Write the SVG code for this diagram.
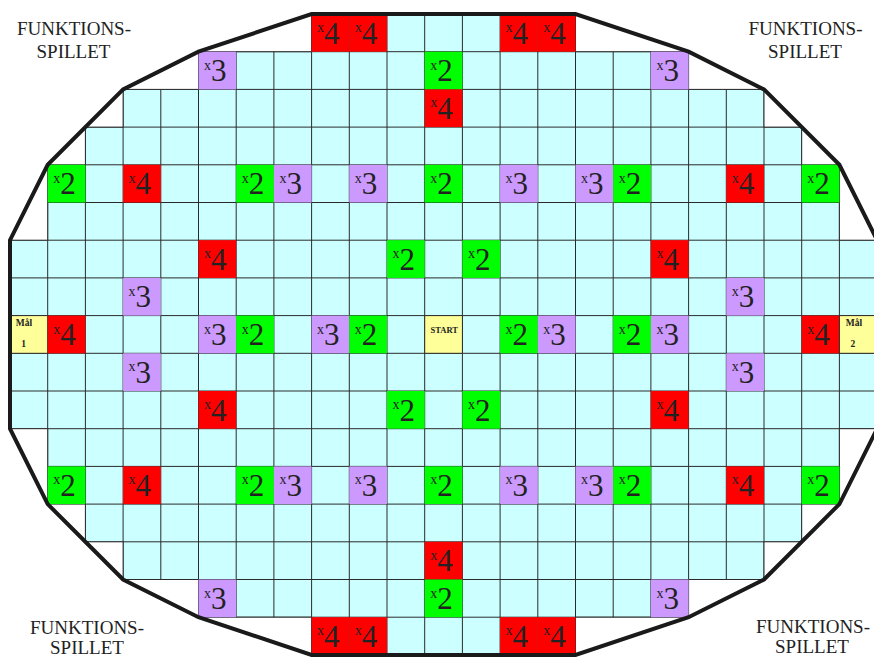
<svg xmlns="http://www.w3.org/2000/svg" width="874" height="660" viewBox="0 0 874 660">
<style>
.board{fill:#ccffff}
.grid{stroke:#2a2a2a;stroke-width:1;fill:none}
.edge{fill:none;stroke:#1a1a1a;stroke-width:4;stroke-linejoin:miter}
.cell rect{stroke:#2a2a2a;stroke-width:1}
.r{fill:#ff0000}.g{fill:#00ff00}.p{fill:#cc99ff}.y{fill:#ffff99}
.sx{font-family:"Liberation Serif","Times New Roman",serif;font-size:14px;fill:#222}
.n{font-family:"Liberation Serif","Times New Roman",serif;font-size:31px;fill:#222}
.sm{font-family:"Liberation Serif","Times New Roman",serif;font-size:9.5px;font-weight:bold;fill:#222;text-anchor:middle}
.title{font-family:"Liberation Serif","Times New Roman",serif;font-size:19px;fill:#222;text-anchor:middle}
</style>
<defs>
<clipPath id="bc"><polygon id="stair" points="311.6,14 575.5,14 575.5,51.7 688.6,51.7 688.6,89.4 764,89.4 764,127.1 801.7,127.1 801.7,164.8 839.4,164.8 839.4,240.2 877.1,240.2 877.1,428.7 839.4,428.7 839.4,504.1 801.7,504.1 801.7,541.8 764,541.8 764,579.5 688.6,579.5 688.6,617.2 575.5,617.2 575.5,654.9 311.6,654.9 311.6,617.2 198.5,617.2 198.5,579.5 123.1,579.5 123.1,541.8 85.4,541.8 85.4,504.1 47.7,504.1 47.7,428.7 10,428.7 10,240.2 47.7,240.2 47.7,164.8 85.4,164.8 85.4,127.1 123.1,127.1 123.1,89.4 198.5,89.4 198.5,51.7 311.6,51.7"/></clipPath>
<g id="x2"><rect class="g" width="37.7" height="37.7"/><text class="sx" x="5.5" y="18">x</text><text class="n" x="12.5" y="29.5">2</text></g>
<g id="x3"><rect class="p" width="37.7" height="37.7"/><text class="sx" x="5.5" y="18">x</text><text class="n" x="12.5" y="29.5">3</text></g>
<g id="x4"><rect class="r" width="37.7" height="37.7"/><text class="sx" x="5.5" y="18">x</text><text class="n" x="12.5" y="29.5">4</text></g>
</defs>

<g id="board">
<use href="#stair" class="board"/>
<g clip-path="url(#bc)">
<path class="grid" d="M0,14H880M0,51.7H880M0,89.4H880M0,127.1H880M0,164.8H880M0,202.5H880M0,240.2H880M0,277.9H880M0,315.6H880M0,353.3H880M0,391H880M0,428.7H880M0,466.4H880M0,504.1H880M0,541.8H880M0,579.5H880M0,617.2H880M0,654.9H880
M10,0V660M47.7,0V660M85.4,0V660M123.1,0V660M160.8,0V660M198.5,0V660M236.2,0V660M273.9,0V660M311.6,0V660M349.3,0V660M387,0V660M424.7,0V660M462.4,0V660M500.1,0V660M537.8,0V660M575.5,0V660M613.2,0V660M650.9,0V660M688.6,0V660M726.3,0V660M764,0V660M801.7,0V660M839.4,0V660M877.1,0V660"/>
</g>
<use href="#stair" class="grid"/>
</g>

<g id="cells">
<!-- row 0 -->
<g class="cell" id="r0c8" transform="translate(311.6,14)"><use href="#x4"/></g>
<g class="cell" id="r0c9" transform="translate(349.3,14)"><use href="#x4"/></g>
<g class="cell" id="r0c13" transform="translate(500.1,14)"><use href="#x4"/></g>
<g class="cell" id="r0c14" transform="translate(537.8,14)"><use href="#x4"/></g>
<!-- row 1 -->
<g class="cell" id="r1c5" transform="translate(198.5,51.7)"><use href="#x3"/></g>
<g class="cell" id="r1c11" transform="translate(424.7,51.7)"><use href="#x2"/></g>
<g class="cell" id="r1c17" transform="translate(650.9,51.7)"><use href="#x3"/></g>
<!-- row 2 -->
<g class="cell" id="r2c11" transform="translate(424.7,89.4)"><use href="#x4"/></g>
<!-- row 4 -->
<g class="cell" id="r4c1" transform="translate(47.7,164.8)"><use href="#x2"/></g>
<g class="cell" id="r4c3" transform="translate(123.1,164.8)"><use href="#x4"/></g>
<g class="cell" id="r4c6" transform="translate(236.2,164.8)"><use href="#x2"/></g>
<g class="cell" id="r4c7" transform="translate(273.9,164.8)"><use href="#x3"/></g>
<g class="cell" id="r4c9" transform="translate(349.3,164.8)"><use href="#x3"/></g>
<g class="cell" id="r4c11" transform="translate(424.7,164.8)"><use href="#x2"/></g>
<g class="cell" id="r4c13" transform="translate(500.1,164.8)"><use href="#x3"/></g>
<g class="cell" id="r4c15" transform="translate(575.5,164.8)"><use href="#x3"/></g>
<g class="cell" id="r4c16" transform="translate(613.2,164.8)"><use href="#x2"/></g>
<g class="cell" id="r4c19" transform="translate(726.3,164.8)"><use href="#x4"/></g>
<g class="cell" id="r4c21" transform="translate(801.7,164.8)"><use href="#x2"/></g>
<!-- row 6 -->
<g class="cell" id="r6c5" transform="translate(198.5,240.2)"><use href="#x4"/></g>
<g class="cell" id="r6c10" transform="translate(387,240.2)"><use href="#x2"/></g>
<g class="cell" id="r6c12" transform="translate(462.4,240.2)"><use href="#x2"/></g>
<g class="cell" id="r6c17" transform="translate(650.9,240.2)"><use href="#x4"/></g>
<!-- row 7 -->
<g class="cell" id="r7c3" transform="translate(123.1,277.9)"><use href="#x3"/></g>
<g class="cell" id="r7c19" transform="translate(726.3,277.9)"><use href="#x3"/></g>
<!-- row 8 -->
<g class="cell" id="mal1" transform="translate(10,315.6)"><rect class="y" width="37.7" height="37.7"/><text class="sm" x="14" y="10.5">Mål</text><text class="sm" x="13.5" y="31">1</text></g>
<g class="cell" id="r8c1" transform="translate(47.7,315.6)"><use href="#x4"/></g>
<g class="cell" id="r8c5" transform="translate(198.5,315.6)"><use href="#x3"/></g>
<g class="cell" id="r8c6" transform="translate(236.2,315.6)"><use href="#x2"/></g>
<g class="cell" id="r8c8" transform="translate(311.6,315.6)"><use href="#x3"/></g>
<g class="cell" id="r8c9" transform="translate(349.3,315.6)"><use href="#x2"/></g>
<g class="cell" id="start" transform="translate(424.7,315.6)"><rect class="y" width="37.7" height="37.7"/><text class="sm" x="19.5" y="17.5" style="font-size:8.5px">START</text></g>
<g class="cell" id="r8c13" transform="translate(500.1,315.6)"><use href="#x2"/></g>
<g class="cell" id="r8c14" transform="translate(537.8,315.6)"><use href="#x3"/></g>
<g class="cell" id="r8c16" transform="translate(613.2,315.6)"><use href="#x2"/></g>
<g class="cell" id="r8c17" transform="translate(650.9,315.6)"><use href="#x3"/></g>
<g class="cell" id="r8c21" transform="translate(801.7,315.6)"><use href="#x4"/></g>
<g class="cell" id="mal2" transform="translate(839.4,315.6)"><rect class="y" width="37.7" height="37.7"/><text class="sm" x="14.5" y="10.5">Mål</text><text class="sm" x="13.5" y="31">2</text></g>
<!-- row 9 -->
<g class="cell" id="r9c3" transform="translate(123.1,353.3)"><use href="#x3"/></g>
<g class="cell" id="r9c19" transform="translate(726.3,353.3)"><use href="#x3"/></g>
<!-- row 10 -->
<g class="cell" id="r10c5" transform="translate(198.5,391)"><use href="#x4"/></g>
<g class="cell" id="r10c10" transform="translate(387,391)"><use href="#x2"/></g>
<g class="cell" id="r10c12" transform="translate(462.4,391)"><use href="#x2"/></g>
<g class="cell" id="r10c17" transform="translate(650.9,391)"><use href="#x4"/></g>
<!-- row 12 -->
<g class="cell" id="r12c1" transform="translate(47.7,466.4)"><use href="#x2"/></g>
<g class="cell" id="r12c3" transform="translate(123.1,466.4)"><use href="#x4"/></g>
<g class="cell" id="r12c6" transform="translate(236.2,466.4)"><use href="#x2"/></g>
<g class="cell" id="r12c7" transform="translate(273.9,466.4)"><use href="#x3"/></g>
<g class="cell" id="r12c9" transform="translate(349.3,466.4)"><use href="#x3"/></g>
<g class="cell" id="r12c11" transform="translate(424.7,466.4)"><use href="#x2"/></g>
<g class="cell" id="r12c13" transform="translate(500.1,466.4)"><use href="#x3"/></g>
<g class="cell" id="r12c15" transform="translate(575.5,466.4)"><use href="#x3"/></g>
<g class="cell" id="r12c16" transform="translate(613.2,466.4)"><use href="#x2"/></g>
<g class="cell" id="r12c19" transform="translate(726.3,466.4)"><use href="#x4"/></g>
<g class="cell" id="r12c21" transform="translate(801.7,466.4)"><use href="#x2"/></g>
<!-- row 14 -->
<g class="cell" id="r14c11" transform="translate(424.7,541.8)"><use href="#x4"/></g>
<!-- row 15 -->
<g class="cell" id="r15c5" transform="translate(198.5,579.5)"><use href="#x3"/></g>
<g class="cell" id="r15c11" transform="translate(424.7,579.5)"><use href="#x2"/></g>
<g class="cell" id="r15c17" transform="translate(650.9,579.5)"><use href="#x3"/></g>
<!-- row 16 -->
<g class="cell" id="r16c8" transform="translate(311.6,617.2)"><use href="#x4"/></g>
<g class="cell" id="r16c9" transform="translate(349.3,617.2)"><use href="#x4"/></g>
<g class="cell" id="r16c13" transform="translate(500.1,617.2)"><use href="#x4"/></g>
<g class="cell" id="r16c14" transform="translate(537.8,617.2)"><use href="#x4"/></g>
</g>

<polygon id="outline" class="edge" points="311.6,14 575.5,14 688.6,51.7 764,89.4 839.4,164.8 877.1,240.2 877.1,428.7 839.4,504.1 764,579.5 688.6,617.2 575.5,654.9 311.6,654.9 198.5,617.2 123.1,579.5 47.7,504.1 10,428.7 10,240.2 47.7,164.8 123.1,89.4 198.5,51.7"/>

<g id="labels">
<text class="title" x="87" y="634">FUNKTIONS-</text>
<text class="title" x="87" y="654">SPILLET</text>
<text class="title" x="813" y="633">FUNKTIONS-</text>
<text class="title" x="812" y="653">SPILLET</text>
<text class="title" x="74" y="35">FUNKTIONS-</text>
<text class="title" x="73.5" y="58">SPILLET</text>
<text class="title" x="805.5" y="35">FUNKTIONS-</text>
<text class="title" x="805" y="58">SPILLET</text>
</g>
</svg>
